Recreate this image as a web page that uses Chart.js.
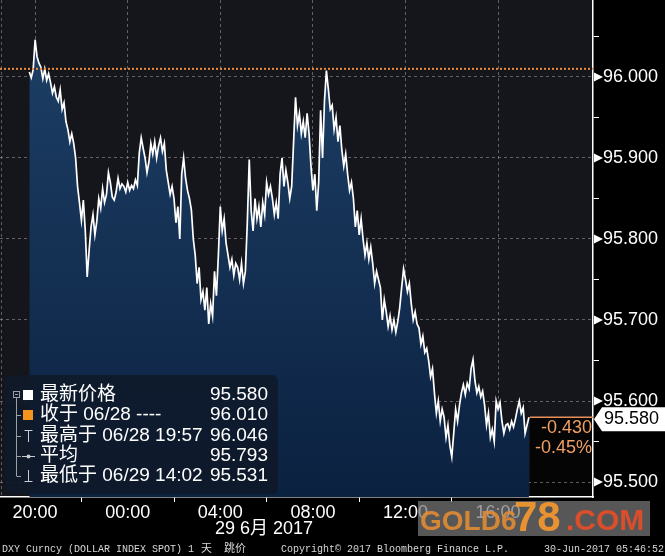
<!DOCTYPE html>
<html>
<head>
<meta charset="utf-8">
<script src="https://cdn.jsdelivr.net/npm/chart.js@4/dist/chart.umd.min.js"></script>
<style>
  html, body { margin: 0; padding: 0; background: #000; }
  canvas { display: block; }
</style>
</head>
<body>
<canvas id="dxyChart" width="665" height="556"></canvas>
<script>
// DXY intraday, 5 minute steps starting 19:45 on 06/28 (minutes relative to 20:00)
const startMinute = -15;
const stepMinutes = 5;
const prices = [
  96.006, 95.999, 96.009, 96.046, 96.025, 96.017, 96.012, 95.998, 96.010, 95.996,
  96.004, 95.993, 95.980, 95.988, 95.975, 95.970, 95.984, 95.960, 95.968, 95.945,
  95.935, 95.920, 95.930, 95.918, 95.900, 95.865, 95.845, 95.823, 95.848, 95.811,
  95.753, 95.786, 95.815, 95.830, 95.805, 95.822, 95.850, 95.838, 95.862, 95.845,
  95.855, 95.882, 95.870, 95.852, 95.848, 95.858, 95.875, 95.862, 95.868, 95.865,
  95.858, 95.870, 95.860, 95.866, 95.862, 95.873, 95.866, 95.906, 95.925, 95.912,
  95.900, 95.882, 95.895, 95.918, 95.905, 95.920, 95.900, 95.915, 95.925, 95.908,
  95.918, 95.885, 95.870, 95.855, 95.865, 95.850, 95.820, 95.840, 95.800, 95.880,
  95.900, 95.875, 95.860, 95.850, 95.836, 95.800, 95.780, 95.745, 95.765, 95.725,
  95.735, 95.712, 95.740, 95.695, 95.720, 95.705, 95.760, 95.730, 95.780, 95.840,
  95.810, 95.825, 95.795, 95.780, 95.765, 95.775, 95.755, 95.770, 95.765, 95.750,
  95.770, 95.745, 95.760, 95.820, 95.898, 95.835, 95.810, 95.850, 95.825, 95.840,
  95.815, 95.845, 95.830, 95.870, 95.855, 95.865, 95.850, 95.830, 95.845, 95.825,
  95.880, 95.900, 95.865, 95.885, 95.870, 95.850, 95.865, 95.920, 95.975, 95.940,
  95.955, 95.930, 95.945, 95.925, 95.955, 95.930, 95.890, 95.860, 95.880, 95.835,
  95.870, 95.959, 95.900, 95.970, 96.008, 95.985, 95.960, 95.965, 95.935, 95.950,
  95.920, 95.940, 95.910, 95.890, 95.905, 95.880, 95.860, 95.870, 95.850, 95.815,
  95.835, 95.805, 95.825, 95.800, 95.780, 95.795, 95.775, 95.790, 95.770, 95.745,
  95.760, 95.750, 95.740, 95.700, 95.725, 95.710, 95.692, 95.705, 95.688, 95.700,
  95.685, 95.698, 95.715, 95.740, 95.763, 95.750, 95.735, 95.745, 95.720, 95.700,
  95.710, 95.695, 95.690, 95.670, 95.680, 95.660, 95.665, 95.650, 95.630, 95.640,
  95.610, 95.585, 95.600, 95.575, 95.590, 95.580, 95.555, 95.570, 95.545, 95.531,
  95.560, 95.590, 95.575, 95.595, 95.610, 95.620, 95.608, 95.622, 95.615, 95.640,
  95.651, 95.625, 95.610, 95.618, 95.605, 95.612, 95.595, 95.570, 95.585, 95.555,
  95.565, 95.550, 95.600, 95.590, 95.598, 95.575, 95.560, 95.570, 95.572, 95.565,
  95.575, 95.568, 95.578, 95.590, 95.600, 95.585, 95.592, 95.560, 95.570, 95.580
];

const xTickMinutes = [0, 240, 480, 720, 960, 1200];
const xTickLabels = ['20:00', '00:00', '04:00', '08:00', '12:00', '16:00'];
const xMinorMinutes = [120, 360, 600, 840, 1080];
const yMajorTicks = [95.5, 95.6, 95.7, 95.8, 95.9, 96.0];
const yMinorTicks = [95.55, 95.65, 95.75, 95.85, 95.95, 96.05];

const lastPrice = 95.580;
const prevClose = 96.010;
const highPrice = 96.046;
const avgPrice = 95.793;
const lowPrice = 95.531;
const legendLabels = ['最新价格', '收于 06/28 ----', '最高于 06/28 19:57', '平均', '最低于 06/29 14:02'];
const legendValues = [lastPrice, prevClose, highPrice, avgPrice, lowPrice];

const FONT = '"Liberation Sans", Arial, "Noto Sans CJK SC", sans-serif';
const points = prices.map((v, i) => ({ x: startMinute + i * stepMinutes, y: v }));
const lastMinute = startMinute + (prices.length - 1) * stepMinutes;

function isMajor(v, list) {
  return list.some(m => Math.abs(m - v) < 1e-6);
}

const backPlugin = {
  id: 'bbgBack',
  beforeDraw(chart) {
    const { ctx, chartArea: a, scales: { x, y } } = chart;
    ctx.save();
    ctx.fillStyle = '#000';
    ctx.fillRect(0, 0, chart.width, chart.height);
    ctx.fillStyle = '#15151c';
    ctx.fillRect(a.left, a.top, a.right - a.left, a.bottom - a.top);
    // black block after the last trade
    const xl = x.getPixelForValue(lastMinute);
    const yl = y.getPixelForValue(lastPrice);
    ctx.fillStyle = '#050505';
    ctx.fillRect(xl + 1, yl, a.right - xl - 1, a.bottom - yl);
    // left frame dashed line
    ctx.strokeStyle = 'rgba(140,140,140,0.6)';
    ctx.setLineDash([3, 3]);
    ctx.lineWidth = 1;
    ctx.beginPath();
    ctx.moveTo(a.left + 1.5, a.top);
    ctx.lineTo(a.left + 1.5, a.bottom);
    ctx.stroke();
    ctx.restore();
  }
};

const overlayPlugin = {
  id: 'bbgOverlay',
  afterDraw(chart) {
    const { ctx, chartArea: a, scales: { x, y } } = chart;
    ctx.save();

    // previous close dotted line
    const yc = y.getPixelForValue(prevClose);
    ctx.strokeStyle = '#f08c3c';
    ctx.lineWidth = 2;
    ctx.setLineDash([2, 2]);
    ctx.beginPath();
    ctx.moveTo(a.left, yc);
    ctx.lineTo(a.right, yc);
    ctx.stroke();
    ctx.setLineDash([]);

    // last price line + change
    const xl = x.getPixelForValue(lastMinute);
    const yl = y.getPixelForValue(lastPrice);
    ctx.strokeStyle = '#e8905a';
    ctx.lineWidth = 1.5;
    ctx.beginPath();
    ctx.moveTo(xl + 1, yl);
    ctx.lineTo(a.right, yl);
    ctx.stroke();

    const change = lastPrice - prevClose;
    ctx.fillStyle = '#f0a064';
    ctx.font = '18px ' + FONT;
    ctx.textAlign = 'right';
    ctx.textBaseline = 'middle';
    ctx.fillText(change.toFixed(3), a.right - 1, 428);
    ctx.fillText((change / prevClose * 100).toFixed(2) + '%', a.right - 1, 448);

    // arrows at major y ticks
    ctx.fillStyle = '#fff';
    yMajorTicks.forEach(v => {
      const yy = y.getPixelForValue(v);
      ctx.beginPath();
      ctx.moveTo(a.right + 1, yy - 4.5);
      ctx.lineTo(a.right + 10, yy);
      ctx.lineTo(a.right + 1, yy + 4.5);
      ctx.closePath();
      ctx.fill();
    });

    // last price tag
    ctx.fillStyle = '#fff';
    ctx.beginPath();
    ctx.moveTo(a.right + 1, yl + 2);
    ctx.lineTo(a.right + 9, yl - 10);
    ctx.lineTo(chart.width, yl - 10);
    ctx.lineTo(chart.width, yl + 14);
    ctx.lineTo(a.right + 9, yl + 14);
    ctx.closePath();
    ctx.fill();
    ctx.fillStyle = '#000';
    ctx.textAlign = 'left';
    ctx.fillText(lastPrice.toFixed(3), a.right + 11, yl + 2);

    // legend box
    ctx.fillStyle = 'rgba(14,26,42,0.9)';
    ctx.beginPath();
    ctx.roundRect(5, 375, 273, 119, 6);
    ctx.fill();

    const rowY = [395, 415, 436, 456, 476];
    ctx.strokeStyle = '#9aa0a8';
    ctx.lineWidth = 1;
    ctx.strokeRect(13.5, 391.5, 6, 6);
    ctx.beginPath();
    ctx.moveTo(15, 394.5); ctx.lineTo(18, 394.5);
    ctx.moveTo(16.5, 398); ctx.lineTo(16.5, rowY[4]);
    rowY.slice(1).forEach(ry => { ctx.moveTo(16.5, ry + 0.5); ctx.lineTo(21, ry + 0.5); });
    ctx.stroke();

    ctx.fillStyle = '#fff';
    ctx.fillRect(23, rowY[0] - 5, 10, 10);
    ctx.fillStyle = '#f7941d';
    ctx.fillRect(23, rowY[1] - 5, 10, 10);
    ctx.strokeStyle = '#c8ccd0';
    ctx.beginPath();
    ctx.moveTo(28.5, rowY[2] - 6); ctx.lineTo(28.5, rowY[2] + 6);
    ctx.moveTo(24.5, rowY[2] - 5.5); ctx.lineTo(32.5, rowY[2] - 5.5);
    ctx.moveTo(22, rowY[3] + 0.5); ctx.lineTo(35, rowY[3] + 0.5);
    ctx.moveTo(28.5, rowY[4] - 6); ctx.lineTo(28.5, rowY[4] + 6);
    ctx.moveTo(24.5, rowY[4] + 5.5); ctx.lineTo(32.5, rowY[4] + 5.5);
    ctx.stroke();
    ctx.fillStyle = '#c8ccd0';
    ctx.beginPath();
    ctx.arc(28.5, rowY[3] + 0.5, 2, 0, Math.PI * 2);
    ctx.fill();

    ctx.fillStyle = '#fff';
    ctx.font = '19px ' + FONT;
    ctx.textBaseline = 'middle';
    legendLabels.forEach((t, i) => {
      ctx.textAlign = 'left';
      ctx.fillText(t, 40, rowY[i]);
      ctx.textAlign = 'right';
      ctx.fillText(legendValues[i].toFixed(3), 268, rowY[i]);
    });

    // date under the time axis
    ctx.font = '18px ' + FONT;
    ctx.textAlign = 'left';
    ctx.fillText('29 6月 2017', 215, 529);

    // footer
    ctx.fillStyle = '#d8d8d8';
    ctx.font = '10px "Liberation Mono", monospace';
    ctx.textBaseline = 'alphabetic';
    ctx.fillText('DXY Curncy (DOLLAR INDEX SPOT) 1', 2, 552);
    ctx.font = '11px "Noto Sans CJK SC", sans-serif';
    ctx.fillText('天', 201, 552);
    ctx.fillText('跳价', 224, 552);
    ctx.font = '10px "Liberation Mono", monospace';
    ctx.fillText('Copyright© 2017 Bloomberg Finance L.P.', 281, 552);
    ctx.fillText('30-Jun-2017 05:46:52', 544, 552);

    // watermark
    ctx.fillStyle = 'rgba(120,120,120,0.72)';
    ctx.fillRect(418, 501, 232, 35);
    ctx.textBaseline = 'alphabetic';
    ctx.font = 'bold 28px ' + FONT;
    ctx.fillStyle = 'rgba(226,140,52,0.9)';
    ctx.fillText('GOLD6', 420, 530);
    ctx.font = 'bold 42px ' + FONT;
    ctx.fillStyle = 'rgba(240,150,48,0.95)';
    ctx.fillText('78', 514, 531);
    ctx.font = 'bold 30px ' + FONT;
    ctx.fillStyle = 'rgba(226,78,42,0.95)';
    ctx.fillText('.COM', 566, 530);

    ctx.restore();
  }
};

const ctx = document.getElementById('dxyChart').getContext('2d');
new Chart(ctx, {
  type: 'line',
  data: {
    datasets: [{
      data: points,
      borderColor: '#ffffff',
      borderWidth: 1.7,
      pointRadius: 0,
      tension: 0,
      fill: 'start',
      backgroundColor: (c) => {
        const a = c.chart.chartArea;
        if (!a) return '#12304f';
        const g = c.chart.ctx.createLinearGradient(0, a.top, 0, a.bottom);
        g.addColorStop(0, '#1e4168');
        g.addColorStop(1, '#0b2140');
        return g;
      }
    }]
  },
  options: {
    responsive: false,
    animation: false,
    devicePixelRatio: 1,
    layout: { padding: 0 },
    plugins: { legend: { display: false }, tooltip: { enabled: false } },
    scales: {
      x: {
        type: 'linear',
        min: -91,
        max: 1446,
        afterBuildTicks: (s) => {
          s.ticks = xTickMinutes.concat(xMinorMinutes).sort((p, q) => p - q).map(v => ({ value: v }));
        },
        afterFit: (s) => { s.height = 59; s.paddingLeft = 0; s.paddingRight = 0; },
        ticks: {
          autoSkip: false,
          maxRotation: 0,
          padding: 0,
          color: '#fff',
          font: { family: FONT, size: 18 },
          callback: (v) => {
            const k = xTickMinutes.indexOf(v);
            return k >= 0 ? xTickLabels[k] : '';
          }
        },
        grid: {
          color: (c) => c.tick && isMajor(c.tick.value, xTickMinutes) ? 'rgba(150,150,150,0.6)' : 'rgba(0,0,0,0)',
          tickColor: (c) => c.tick && isMajor(c.tick.value, xTickMinutes) ? 'rgba(0,0,0,0)' : '#fff',
          tickLength: 5
        },
        border: { color: '#fff', width: 1.5, dash: [3, 3] }
      },
      y: {
        position: 'right',
        min: 95.4815,
        max: 96.095,
        afterBuildTicks: (s) => {
          s.ticks = yMajorTicks.concat(yMinorTicks).sort((p, q) => p - q).map(v => ({ value: v }));
        },
        afterFit: (s) => { s.width = 72; s.paddingTop = 0; s.paddingBottom = 0; },
        ticks: {
          padding: 4,
          color: '#fff',
          font: { family: FONT, size: 18 },
          callback: (v) => isMajor(v, yMajorTicks) ? v.toFixed(3) : ''
        },
        grid: {
          color: (c) => c.tick && isMajor(c.tick.value, yMajorTicks) ? 'rgba(150,150,150,0.6)' : 'rgba(0,0,0,0)',
          tickColor: (c) => c.tick && isMajor(c.tick.value, yMajorTicks) ? 'rgba(0,0,0,0)' : '#fff',
          tickLength: 6
        },
        border: { color: '#fff', width: 1.5, dash: [3, 3] }
      }
    }
  },
  plugins: [backPlugin, overlayPlugin]
});
</script>
</body>
</html>
